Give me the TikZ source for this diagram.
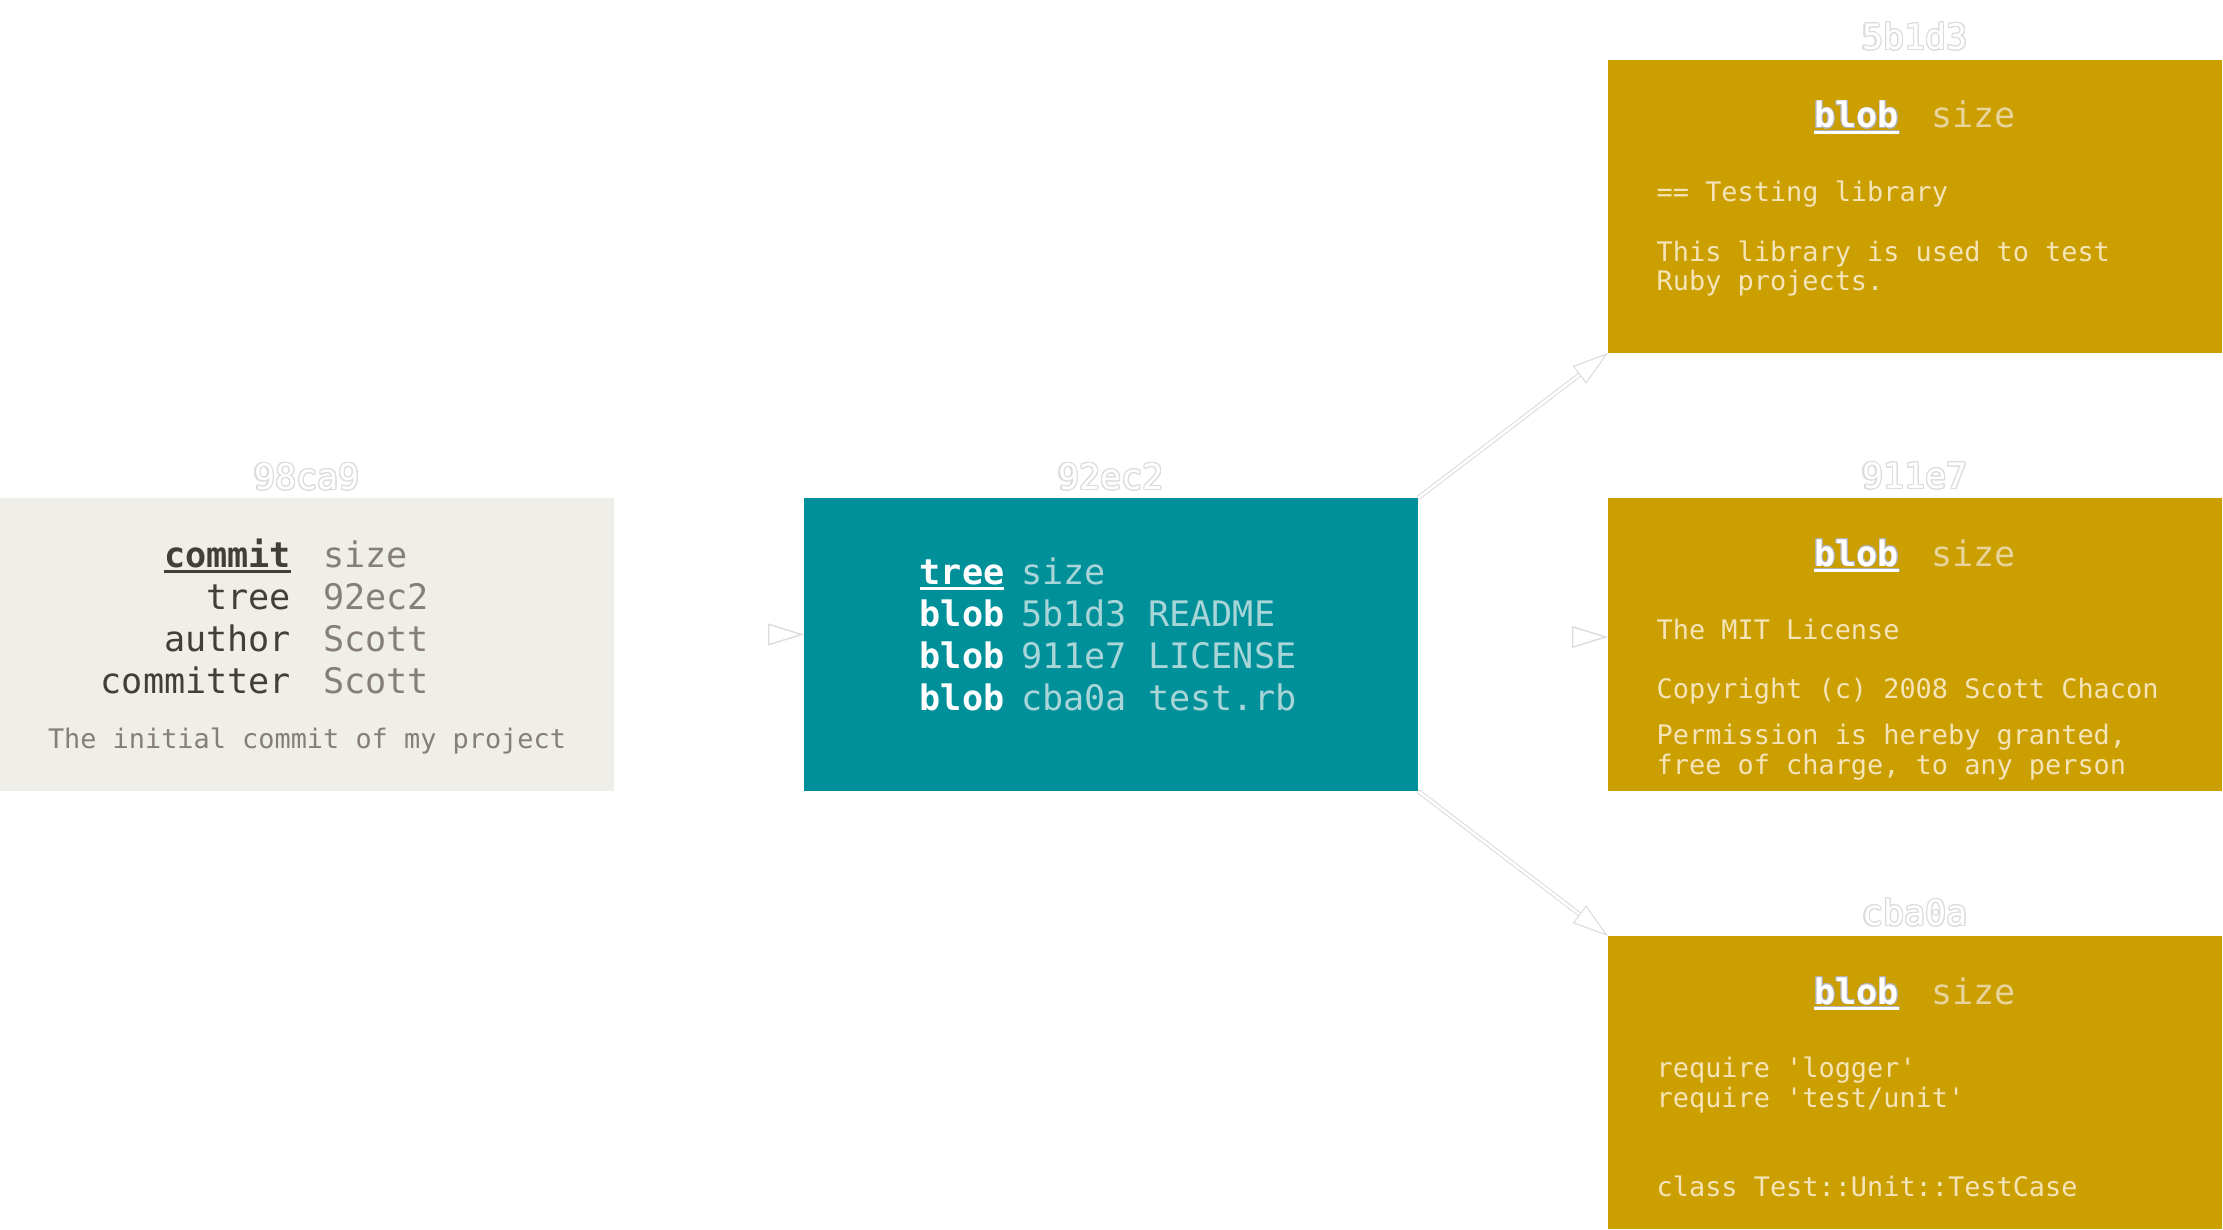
\documentclass[tikz,border=0pt]{standalone}
\usepackage{fontspec}
\setmonofont{DejaVu Sans Mono}
\usepackage[copies]{contour}
\usetikzlibrary{arrows.meta,positioning,calc}

\definecolor{commitbg}{HTML}{EFEEE8}
\definecolor{commitkey}{HTML}{443E38}
\definecolor{commitval}{HTML}{867F77}
\definecolor{treebg}{HTML}{00909A}
\definecolor{treeval}{HTML}{A8D6D8}
\definecolor{blobbg}{HTML}{CC9F00}
\definecolor{blobval}{HTML}{E8D49A}
\definecolor{blobtxt}{HTML}{F4E4B8}
\definecolor{edge}{HTML}{DCDCDC}

\contourlength{0.35pt}
\contournumber{16}
\newcommand{\ulkey}[1]{\setbox0\hbox{#1}\rlap{\rule[-1.6pt]{\wd0}{0.7pt}}\box0}
\newcommand{\objid}[1]{{\color{white}\contour{edge}{#1}}}
\newcommand{\blobhead}{{\color{white}\contourlength{0.2pt}\contour{black!30}{\bfseries\ulkey{blob}}}\hspace{0.32cm}\textcolor{blobval}{size}}

\begin{document}
\begin{tikzpicture}[
    obj/.style={minimum width=6.14cm, minimum height=2.93cm, inner sep=0pt, outer sep=0pt},
    big/.style={font=\fontsize{10}{12}\selectfont\ttfamily, inner sep=0pt},
    small/.style={font=\fontsize{7.65}{8.5}\selectfont\ttfamily, inner sep=0pt},
    body/.style={small, text width=5.5cm, align=flush left, anchor=north west, text=blobtxt},
    ptr/.style={-{Triangle[open, fill=white, length=0.36cm, width=0.22cm, color=edge]}},
    pipe/.style={draw=edge, double=white, double distance=0.7pt, line width=0.3pt}
  ]
  \useasboundingbox (0,0) rectangle (22.23,-12.30);

  % objects
  \node[obj, fill=commitbg] (commit) at (3.07,-6.445) {};
  \node[obj, fill=treebg, right=1.90cm of commit] (tree) {};
  \node[obj, fill=blobbg, right=1.90cm of tree] (license) {};
  \node[obj, fill=blobbg, above=1.45cm of license] (readme) {};
  \node[obj, fill=blobbg, below=1.45cm of license] (testrb) {};

  % ids
  \node[big, above=0.06cm of commit] (commitid) {\objid{98ca9}};
  \node[big, above=0.06cm of tree] (treeid) {\objid{92ec2}};
  \node[big, above=0.08cm of readme] (readmeid) {\objid{5b1d3}};
  \node[big, above=0.07cm of license] (licenseid) {\objid{911e7}};
  \node[big, above=0.08cm of testrb] (testrbid) {\objid{cba0a}};

  % commit
  \node[big, anchor=base west] (commitrows) at ($(commit.north west)+(1.00,-0.69)$) {%
    \begin{tabular}[t]{@{}r@{\hspace{0.32cm}}l@{}}
      \textcolor{commitkey}{\bfseries\ulkey{commit}} & \textcolor{commitval}{size}\\
      \textcolor{commitkey}{tree} & \textcolor{commitval}{92ec2}\\
      \textcolor{commitkey}{author} & \textcolor{commitval}{Scott}\\
      \textcolor{commitkey}{committer} & \textcolor{commitval}{Scott}
    \end{tabular}};
  \node[small, anchor=base, text=commitval] (commitmsg) at ($(commit.north)+(0,-2.50)$)
    {The initial commit of my project};

  % tree
  \node[big, anchor=base west] (treerows) at ($(tree.north west)+(1.15,-0.86)$) {%
    \begin{tabular}[t]{@{}l@{\hspace{0.17cm}}l@{}}
      \textcolor{white}{\bfseries\ulkey{tree}} & \textcolor{treeval}{size}\\
      \textcolor{white}{\bfseries blob} & \textcolor{treeval}{5b1d3 README}\\
      \textcolor{white}{\bfseries blob} & \textcolor{treeval}{911e7 LICENSE}\\
      \textcolor{white}{\bfseries blob} & \textcolor{treeval}{cba0a test.rb}
    \end{tabular}};

  % blobs
  \node[big, anchor=base] (readmehead) at ($(readme.north)+(0,-0.68)$) {\blobhead};
  \node[body] (readmetext) at ($(readme.north west)+(0.48,-1.20)$)
    {== Testing library\\[8.5pt] This library is used to test\\ Ruby projects.};

  \node[big, anchor=base] (licensehead) at ($(license.north)+(0,-0.68)$) {\blobhead};
  \node[body] (licensetext) at ($(license.north west)+(0.48,-1.20)$)
    {The MIT License\\[8.5pt] Copyright (c) 2008 Scott Chacon\\[4.5pt] Permission is hereby granted,\\ free of charge, to any person};

  \node[big, anchor=base] (testrbhead) at ($(testrb.north)+(0,-0.68)$) {\blobhead};
  \node[body] (testrbtext) at ($(testrb.north west)+(0.48,-1.20)$)
    {require 'logger'\\ require 'test/unit'\\[17pt] class Test::Unit::TestCase};

  % pointers
  \draw[ptr, white] ([yshift=0.1cm]commit.east) -- ([yshift=0.1cm]tree.west);
  \draw[ptr, white] ([yshift=0.075cm]tree.east) -- ([yshift=0.075cm]license.west);
  \draw[ptr, pipe] (tree.north east) -- (readme.south west);
  \draw[ptr, pipe] (tree.south east) -- (testrb.north west);
\end{tikzpicture}
\end{document}
